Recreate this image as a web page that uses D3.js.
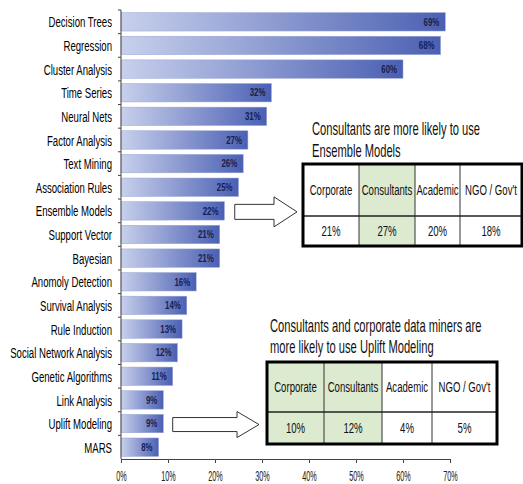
<!DOCTYPE html>
<html>
<head>
<meta charset="utf-8">
<script src="https://cdn.jsdelivr.net/npm/d3@7"></script>
<style>
    body { margin: 0; background: #fff; }
    svg { display: block; font-family: 'Liberation Sans', Arial, sans-serif; }
</style>
</head>
<body>
<div id="chart"></div>
<script>
    // survey data
    var methods = ['Decision Trees', 'Regression', 'Cluster Analysis', 'Time Series', 'Neural Nets',
        'Factor Analysis', 'Text Mining', 'Association Rules', 'Ensemble Models', 'Support Vector',
        'Bayesian', 'Anomoly Detection', 'Survival Analysis', 'Rule Induction', 'Social Network Analysis',
        'Genetic Algorithms', 'Link Analysis', 'Uplift Modeling', 'MARS'];
    var usage = [69, 68, 60, 32, 31, 27, 26, 25, 22, 21, 21, 16, 14, 13, 12, 11, 9, 9, 8];
    var xTicks = [0, 10, 20, 30, 40, 50, 60, 70];

    var groups = ['Corporate', 'Consultants', 'Academic', "NGO / Gov't"];
    var ensembleTitle = ['Consultants are more likely to use', 'Ensemble Models'];
    var ensembleVals = ['21%', '27%', '20%', '18%'];
    var ensembleHi = ['Consultants'];
    var upliftTitle = ['Consultants and corporate data miners are', 'more likely to use Uplift Modeling'];
    var upliftVals = ['10%', '12%', '4%', '5%'];
    var upliftHi = ['Corporate', 'Consultants'];

    var width = 523, height = 484;
    var sx = 0.62; // the source picture is squeezed sideways, so are its letters

    var svg = d3.select('#chart').append('svg')
        .attr('width', width)
        .attr('height', height);

    var grad = svg.append('defs').append('linearGradient')
        .attr('id', 'barGrad')
        .attr('x1', 0).attr('x2', 1).attr('y1', 0).attr('y2', 0);
    grad.append('stop').attr('offset', '0%').attr('stop-color', '#c8d0ec');
    grad.append('stop').attr('offset', '100%').attr('stop-color', '#4b60b3');

    var x = d3.scaleLinear().domain([0, 70]).range([121, 450]);
    var y = d3.scaleBand().domain(methods).range([10, 459]).paddingInner(0.22).paddingOuter(0.11);

    var rows = methods.map(function(m, i){ return {name: m, val: usage[i]}; });

    // text placed at (px, py) and narrowed by s
    function squeeze(sel, px, py, s){
        sel.attr('transform', function(d, i){
            var a = typeof px === 'function' ? px(d, i) : px,
                b = typeof py === 'function' ? py(d, i) : py;
            return 'translate(' + a + ',' + b + ') scale(' + s + ',1)';
        });
    }

    // bars
    svg.selectAll('rect.bar')
        .data(rows)
        .enter().append('rect')
        .attr('class', 'bar')
        .attr('x', x(0))
        .attr('y', function(d){ return y(d.name); })
        .attr('width', function(d){ return x(d.val) - x(0); })
        .attr('height', y.bandwidth())
        .attr('fill', 'url(#barGrad)')
        .attr('stroke', '#9aa5d4')
        .attr('stroke-width', 0.5);

    svg.selectAll('text.val')
        .data(rows)
        .enter().append('text')
        .attr('class', 'val')
        .attr('dy', '0.36em')
        .attr('text-anchor', 'end')
        .attr('font-size', 10.5)
        .attr('font-weight', 'bold')
        .attr('fill', '#18204f')
        .text(function(d){ return d.val + '%'; })
        .call(squeeze, function(d){ return x(d.val) - 6; }, function(d){ return y(d.name) + y.bandwidth()/2; }, 0.75);

    // category labels
    svg.selectAll('text.cat')
        .data(methods)
        .enter().append('text')
        .attr('class', 'cat')
        .attr('dy', '0.36em')
        .attr('text-anchor', 'end')
        .attr('font-size', 15.5)
        .attr('fill', '#000')
        .text(function(d){ return d; })
        .call(squeeze, x(0) - 9, function(d){ return y(d) + y.bandwidth()/2; }, sx);

    // y axis line with ticks between bands
    svg.append('line')
        .attr('x1', x(0)).attr('x2', x(0))
        .attr('y1', 10).attr('y2', 459)
        .attr('stroke', '#444').attr('stroke-width', 1);
    var bounds = methods.map(function(m){ return y(m) - y.step()*y.paddingInner()/2; });
    svg.selectAll('line.ytick')
        .data(bounds)
        .enter().append('line')
        .attr('class', 'ytick')
        .attr('x1', x(0) - 3).attr('x2', x(0))
        .attr('y1', function(d){ return d; }).attr('y2', function(d){ return d; })
        .attr('stroke', '#444');

    // x axis
    var xAxis = svg.append('g')
        .attr('transform', 'translate(0,459)')
        .call(d3.axisBottom(x).tickValues(xTicks).tickFormat(function(d){ return d + '%'; })
            .tickSize(4).tickSizeOuter(0).tickPadding(8));
    xAxis.select('.domain').attr('stroke', '#444');
    xAxis.selectAll('.tick line').attr('stroke', '#444');
    xAxis.selectAll('.tick text')
        .attr('font-family', null)
        .attr('font-size', 14)
        .attr('fill', '#222')
        .attr('transform', 'scale(0.52,1)');

    // hollow block arrows
    function arrow(x0, x1, xt, yc, shaftH, headH){
        var p = d3.path();
        p.moveTo(x0, yc - shaftH/2);
        p.lineTo(x1, yc - shaftH/2);
        p.lineTo(x1, yc - headH/2);
        p.lineTo(xt, yc);
        p.lineTo(x1, yc + headH/2);
        p.lineTo(x1, yc + shaftH/2);
        p.lineTo(x0, yc + shaftH/2);
        p.closePath();
        svg.append('path')
            .attr('d', p.toString())
            .attr('fill', '#fff')
            .attr('stroke', '#333')
            .attr('stroke-width', 1);
    }
    arrow(x(24.2), 274, 297, y('Ensemble Models') + y.bandwidth()/2 + 1, 15, 30);
    arrow(x(11), 237, 259, y('Uplift Modeling') + y.bandwidth()/2 + 1, 14, 26);

    // side tables
    function table(title, tx, ty, lead, cols, top, mid, bottom, vals, hi){
        svg.selectAll(null)
            .data(title)
            .enter().append('text')
            .attr('font-size', 18)
            .attr('fill', '#111')
            .text(function(d){ return d; })
            .call(squeeze, tx, function(d, i){ return ty + i*lead; }, sx);

        var g = svg.append('g');
        groups.forEach(function(grp, i){
            var fill = hi.indexOf(grp) >= 0 ? '#dcebd0' : '#fff';
            var cx = (cols[i] + cols[i+1])/2;
            g.append('rect')
                .attr('x', cols[i]).attr('y', top)
                .attr('width', cols[i+1] - cols[i]).attr('height', bottom - top)
                .attr('fill', fill);
            g.append('text')
                .attr('dy', '0.35em')
                .attr('text-anchor', 'middle')
                .attr('font-size', 15.5)
                .attr('fill', '#111')
                .text(grp)
                .call(squeeze, cx, (top + mid)/2, sx);
            g.append('text')
                .attr('dy', '0.35em')
                .attr('text-anchor', 'middle')
                .attr('font-size', 15.5)
                .attr('fill', '#111')
                .text(vals[i])
                .call(squeeze, cx, (mid + bottom)/2, sx);
            if(i > 0){
                g.append('line')
                    .attr('x1', cols[i]).attr('x2', cols[i])
                    .attr('y1', top).attr('y2', bottom)
                    .attr('stroke', '#333').attr('stroke-width', 1);
            }
        });
        g.append('line')
            .attr('x1', cols[0]).attr('x2', cols[cols.length-1])
            .attr('y1', mid).attr('y2', mid)
            .attr('stroke', '#222').attr('stroke-width', 1.5);
        g.append('rect')
            .attr('x', cols[0]).attr('y', top)
            .attr('width', cols[cols.length-1] - cols[0]).attr('height', bottom - top)
            .attr('fill', 'none')
            .attr('stroke', '#000')
            .attr('stroke-width', 3);
    }

    table(ensembleTitle, 312, 135, 22, [303, 359, 415, 460, 522], 164, 216, 246, ensembleVals, ensembleHi);
    table(upliftTitle, 270, 332, 21, [267, 324, 382, 432, 497], 362, 412, 444, upliftVals, upliftHi);
</script>
</body>
</html>
